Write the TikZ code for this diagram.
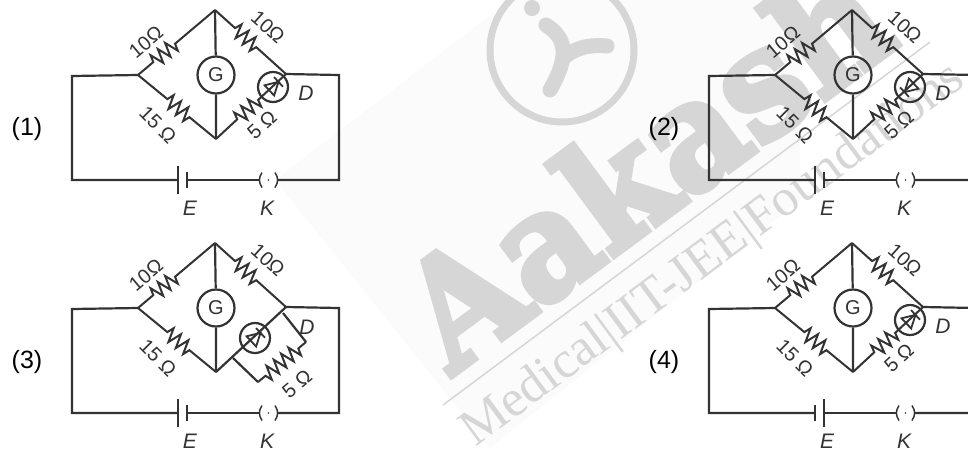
\documentclass[tikz,border=0pt]{standalone}
\usepackage{fontspec}
\setmainfont{Liberation Sans}
\newfontfamily\markfont{DejaVu Serif Bold}[FakeBold=4]
\newfontfamily\marklight{Liberation Serif}
\usetikzlibrary{decorations.pathmorphing}
\definecolor{ink}{HTML}{333333}
\definecolor{markgray}{HTML}{D6D6D6}
\definecolor{markbg}{HTML}{FBFBFB}
\tikzset{
  wire/.style={draw=ink,line width=2.2pt,line join=miter},
  res/.style n args={2}{wire,line width=2pt,decorate,decoration={zigzag,segment length=9.5pt,amplitude=7pt,pre=lineto,pre length=#1pt,post=lineto,post length=#2pt}},
  meter/.style={circle,draw=ink,line width=2.2pt,inner sep=0pt,minimum size=37pt},
  diodering/.style={circle,draw=ink,line width=2.2pt,inner sep=0pt,minimum size=30pt},
  lab/.style={text=ink,font=\fontsize{20}{20}\selectfont,inner sep=0pt},
  tag/.style={text=ink,font=\fontsize{21}{21}\selectfont\itshape,inner sep=0pt},
  optlab/.style={text=black,font=\fontsize{25}{25}\selectfont,inner sep=0pt},
  wmark/.style={text=markgray,inner sep=0pt,rotate=36.5},
}
\begin{document}
\begin{tikzpicture}[x=1pt,y=-1pt]
  \useasboundingbox (0,0) rectangle (968,448);

  % watermark
  \fill [markbg] (275,180) -- (510,0) -- (800,0) -- (800,200) -- (490,448) -- cycle;
  \draw [markgray,line width=7pt] (562,50) circle (72);
  \fill [markgray] (532,8) circle (8);
  \draw [markgray,line width=15pt,line cap=round] (546,25) .. controls (566,38) and (570,55) .. (550,90);
  \draw [markgray,line width=15pt,line cap=round] (566,56) .. controls (580,45) and (595,45) .. (607,46);
  \node [wmark,xscale=.92,font=\markfont\fontsize{150}{150}\selectfont,anchor=base west] (aakash) at (452,376) {Aakash};
  \coordinate (markA) at (443,405);
  \coordinate (markB) at (930,42);
  \draw [markgray,line width=1.5pt] (markA) -- (markB);
  \node [wmark,font=\marklight\fontsize{52}{52}\selectfont,anchor=base west] (markline) at (475,448) {Medical|IIT-JEE|Foundations};

  \foreach \nm/\dx/\dy/\dang/\hone/\htwo in {1/0/0/43/14/8, 2/637/0/223/14/8, 3/0/233/43/14/8, 4/637/233/43/8/14} {
  \begin{scope}[shift={(\dx,\dy)},name prefix=p\nm-]
    \coordinate (wl) at (72,76);
    \coordinate (wr) at (339,75);
    \coordinate (bl) at (72,180);
    \coordinate (br) at (339,180);
    \coordinate (l) at (138,75);
    \coordinate (t) at (215,10);
    \coordinate (r) at (286,74);
    \coordinate (b) at (216,139);
    \coordinate (e1) at (178,180);
    \coordinate (e2) at (187,180);
    \coordinate (k1) at (260,180);
    \coordinate (k2) at (277,180);
    \coordinate (k0) at (268.5,180);

    \draw [wire] (l) -- (wl) -- (bl) -- (e1);
    \draw [wire] (r) -- (wr) -- (br) -- (k2);
    \draw [wire] (e2) -- (k1);
    \draw [wire] ([yshift=-\hone]e1) -- ([yshift=\hone]e1);
    \draw [wire] ([yshift=-\htwo]e2) -- ([yshift=\htwo]e2);
    \draw [ink,line width=1.5pt] ([shift={(2,-7.5)}]k1) .. controls ([shift={(-1.5,-2)}]k1) and ([shift={(-1.5,2)}]k1) .. ([shift={(2,7.5)}]k1);
    \draw [ink,line width=1.5pt] ([shift={(-2,-7.5)}]k2) .. controls ([shift={(1.5,-2)}]k2) and ([shift={(1.5,2)}]k2) .. ([shift={(-2,7.5)}]k2);
    \fill [ink] (k0) circle (0.8);

    \node [meter] (G) at (216,75) {};
    \node [text=ink,font=\fontsize{20}{20}\selectfont,inner sep=0pt] (Gname) at (G) {G};
    \draw [wire] (t) -- (G) -- (b);

    \draw [res={20}{48}] (l) -- (t);
    \draw [res={27}{37}] (t) -- (r);
    \draw [res={38}{30}] (l) -- (b);

    \node [lab,rotate=40] (r1) at (146,42) {10Ω};
    \node [lab,rotate=-42] (r2) at (268,27) {10Ω};
    \node [lab,rotate=-45] (r3) at (158,125) {15 Ω};

    \ifnum\nm=3
      \coordinate (j1) at (283,80);
      \coordinate (j2) at (306,109);
      \coordinate (j3) at (258,149);
      \coordinate (j4) at (233,125);
      \node [diodering] (ring) at (255,105) {};
      \draw [wire] (b) -- (r);
      \draw [wire] (j1) -- (j2);
      \draw [wire] (j3) -- (j4);
      \draw [res={10}{7}] (j2) -- (j3);
      \node [lab,rotate=40] (r4) at (297,151) {5 Ω};
      \node [tag] (Dname) at (307,94) {D};
    \else
      \node [diodering] (ring) at (273,87) {};
      \draw [res={29}{36}] (b) -- (r);
      \node [lab,rotate=42] (r4) at (262,125) {5 Ω};
      \node [tag] (Dname) at (306,93) {D};
    \fi
    \begin{scope}[shift={(ring)},rotate=\dang]
      \draw [ink,line width=1.8pt,line join=miter] (-5,-7) -- (7.5,0) -- (-5,7) -- cycle;
      \draw [ink,line width=1.8pt] (7.5,-6.5) -- (7.5,6.5);
    \end{scope}

    \node [tag] (Ename) at (190,208) {E};
    \node [tag] (Kname) at (267,208) {K};
    \node [optlab] (opt) at (27,129) {(\nm)};
  \end{scope}
  }
\end{tikzpicture}
\end{document}
